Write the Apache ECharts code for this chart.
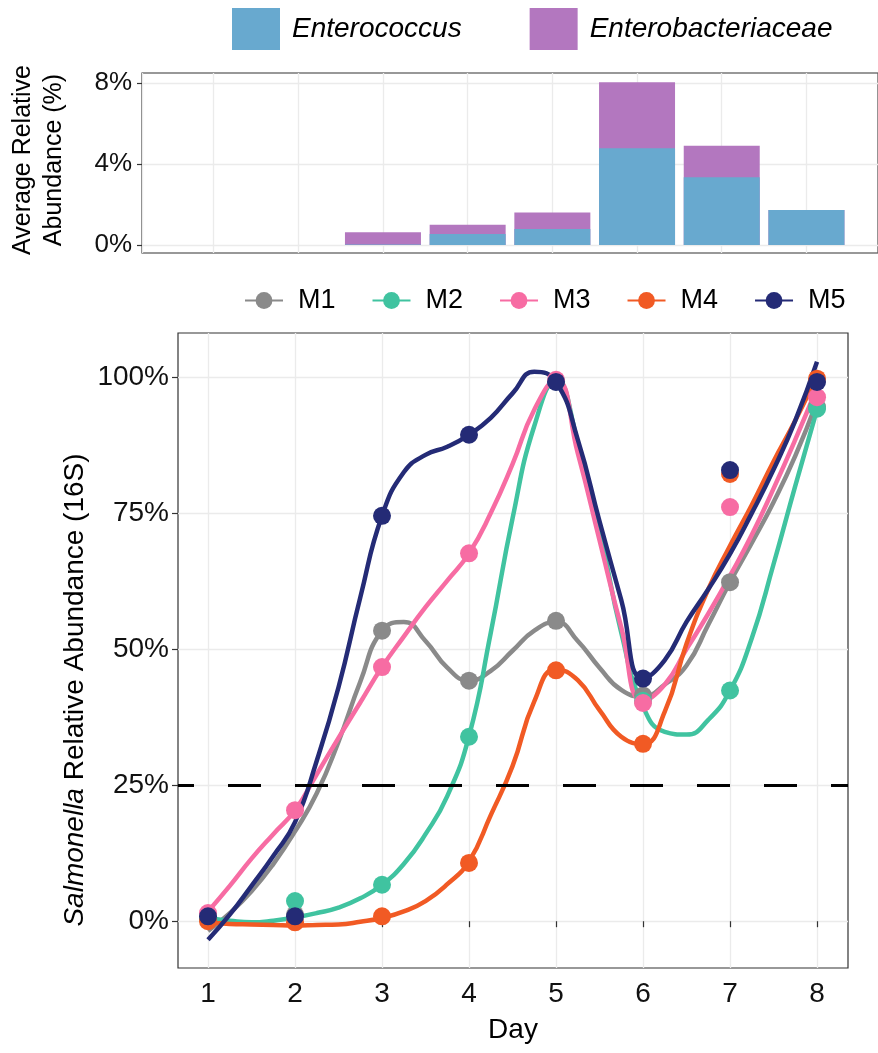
<!DOCTYPE html>
<html>
<head>
<meta charset="utf-8">
<script src="https://cdn.jsdelivr.net/npm/echarts@6/dist/echarts.min.js"></script>
<style>html,body{margin:0;padding:0;background:#fff}#c{width:878px;height:1053px}</style>
</head>
<body>
<div id="c"></div>
<script>
// ---------- data ----------
const days = [1, 2, 3, 4, 5, 6, 7, 8];
const barNames = ['Enterococcus', 'Enterobacteriaceae'];
const enterococcus = [0, 0, 0.03, 0.54, 0.79, 4.78, 3.34, 1.73];
const enterobacteriaceae = [0, 0, 0.60, 0.46, 0.81, 3.26, 1.56, 0];
const topTicks = [0, 4, 8];
const bottomTicks = [0, 25, 50, 75, 100];
const threshold = 25;

const seriesNames = ['M1', 'M2', 'M3', 'M4', 'M5'];
const m1Points = [0.5, 1.2, 53.4, 44.2, 55.2, 41.5, 62.3, 94.5];
const m2Points = [0.4, 3.7, 6.7, 33.9, 99.2, 40.5, 42.4, 94.2];
const m3Points = [1.5, 20.4, 46.7, 67.6, 99.5, 40.1, 76.1, 96.3];
const m4Points = [0, -0.2, 0.9, 10.7, 46.1, 32.6, 82.2, 99.7];
const m5Points = [0.9, 0.9, 74.5, 89.4, 99.1, 44.6, 82.9, 99.1];

// smoothed fit curves every quarter day
const curveDays = [1,1.25,1.5,1.75,2,2.25,2.5,2.75,3,3.25,3.5,3.75,4,4.25,4.5,4.75,5,5.25,5.5,5.75,6,6.25,6.5,6.75,7,7.25,7.5,7.75,8];
const m1Curve = [-1.8,1.5,5.5,10.5,16.5,23.5,33,44,53.4,55,51.5,46.6,44.2,46,49.7,53.4,55,51.5,46.6,42.5,41.3,43.5,47,54.5,62.3,69.5,77,85.5,95.5];
const m2Curve = [0.6,0.1,-0.2,0.1,0.7,1.5,2.5,4.2,6.7,10.5,16,23,34,53,74,91,99.4,88,72,53,39.5,34.8,34.3,37,42.4,52,65.6,80,94];
const m3Curve = [1.8,6.5,11.5,16,20.4,27,33.7,40.2,46.7,52.3,57.7,62.6,67.6,75,84,94,99.5,86,70,54,40.5,43.5,50,56.5,63.5,71,79.5,88.5,98];
const m4Curve = [-0.3,-0.5,-0.6,-0.7,-0.8,-0.7,-0.6,-0.1,0.6,1.8,3.7,6.8,11,19.5,28.5,40.4,46.3,44.3,38.8,33.9,32.6,38.5,51,61,69,76.5,84.5,92,100.3];
const m5Curve = [-3.4,1.2,6.5,12,18.2,29.5,43,59.5,74.5,82.5,85.7,87.2,89.4,92.5,97,101,99.1,88.5,73.5,59,44.6,48,55,61,67.5,75,83,92,102.8];

const allPoints = [m1Points, m2Points, m3Points, m4Points, m5Points];
const allCurves = [m1Curve, m2Curve, m3Curve, m4Curve, m5Curve];
const colors = ['#8A8A8A', '#40C3A0', '#F76CA3', '#F15A24', '#242B76'];
const barColors = ['#68A9CF', '#B377BF'];

// ---------- chart ----------
const FONT = '"Liberation Sans", Arial, Helvetica, sans-serif';
const chart = echarts.init(document.getElementById('c'), null, {renderer: 'canvas'});
const gridLine = {show: true, lineStyle: {color: '#EBEBEB', width: 1.3}};
const tickStyle = {lineStyle: {color: '#333', width: 1.2}};

const series = [];
// stacked bars: the upper segment is drawn from the running total, the lower one over it
series.push({
  name: barNames[1], type: 'bar', xAxisIndex: 0, yAxisIndex: 0, barWidth: 76, barGap: '-100%', z: 2,
  itemStyle: {color: barColors[1]},
  data: days.map((d, i) => [d, enterococcus[i] + enterobacteriaceae[i]])
});
series.push({
  name: barNames[0], type: 'bar', xAxisIndex: 0, yAxisIndex: 0, barWidth: 76, barGap: '-100%', z: 3,
  itemStyle: {color: barColors[0]},
  data: days.map((d, i) => [d, enterococcus[i]])
});
allCurves.forEach((c, k) => {
  series.push({
    name: seriesNames[k], type: 'line', xAxisIndex: 1, yAxisIndex: 1,
    smooth: 0.5, symbol: 'circle', showSymbol: false, z: 2,
    lineStyle: {width: 4.5, color: colors[k]}, itemStyle: {color: colors[k]},
    data: curveDays.map((d, i) => [d, c[i]])
  });
});
allPoints.forEach((p, k) => {
  series.push({
    name: seriesNames[k], type: 'scatter', xAxisIndex: 1, yAxisIndex: 1,
    symbolSize: 18, z: 3, itemStyle: {color: colors[k], opacity: 1},
    data: days.map((d, i) => [d, p[i]])
  });
});
series.push({
  name: 'threshold', type: 'line', xAxisIndex: 1, yAxisIndex: 1, data: [], z: 4,
  markLine: {
    silent: true, symbol: 'none', label: {show: false},
    lineStyle: {color: '#000', width: 3, type: [33, 34], dashOffset: 17},
    data: [{yAxis: threshold}]
  }
});

chart.setOption({
  animation: false,
  backgroundColor: '#fff',
  textStyle: {fontFamily: FONT},
  legend: [
    {
      data: barNames, left: 232, top: 8, padding: 0, icon: 'rect', itemWidth: 48, itemHeight: 42, itemGap: 68,
      textStyle: {fontSize: 28, fontStyle: 'italic', color: '#000', fontFamily: FONT, padding: [0, 0, 0, 7]},
      selectedMode: false
    },
    {
      data: seriesNames, left: 244, top: 287, padding: 0, itemWidth: 38, itemHeight: 21, itemGap: 36,
      textStyle: {fontSize: 27, color: '#000', fontFamily: FONT, padding: [0, 0, 0, 10]},
      selectedMode: false
    }
  ],
  grid: [
    {left: 142, top: 73, width: 739, height: 180, show: true, borderColor: '#333', borderWidth: 1.2, backgroundColor: 'transparent'},
    {left: 178, top: 333, width: 670, height: 635, show: true, borderColor: '#333', borderWidth: 1.2, backgroundColor: 'transparent'}
  ],
  xAxis: [
    {
      gridIndex: 0, type: 'value', min: 0.155, max: 8.845, minInterval: 1, maxInterval: 1,
      axisLine: {show: false}, axisTick: {show: false}, axisLabel: {show: false}, splitLine: gridLine
    },
    {
      gridIndex: 1, type: 'value', min: 0.655, max: 8.356, minInterval: 1, maxInterval: 1,
      axisLine: {show: false},
      axisTick: {show: true, length: 6, customValues: days, ...tickStyle},
      axisLabel: {show: true, customValues: days, margin: 12, fontSize: 28, color: '#111', fontFamily: FONT},
      splitLine: gridLine,
      name: 'Day', nameLocation: 'middle', nameGap: 48,
      nameTextStyle: {fontSize: 28, color: '#000', fontFamily: FONT}
    }
  ],
  yAxis: [
    {
      gridIndex: 0, type: 'value', min: -0.395, max: 8.494, minInterval: 1, maxInterval: 1,
      axisLine: {show: false},
      axisTick: {show: true, length: 5, customValues: topTicks, ...tickStyle},
      axisLabel: {show: true, customValues: topTicks, margin: 10, fontSize: 26, color: '#111', fontFamily: FONT,
        formatter: v => v + '%'},
      splitLine: gridLine
    },
    {
      gridIndex: 1, type: 'value', min: -8.6, max: 108.1, minInterval: 12.5, maxInterval: 12.5,
      axisLine: {show: false},
      axisTick: {show: true, length: 6, customValues: bottomTicks, ...tickStyle},
      axisLabel: {show: true, customValues: bottomTicks, margin: 9, fontSize: 28, color: '#111', fontFamily: FONT,
        formatter: v => v + '%'},
      splitLine: gridLine
    }
  ],
  graphic: [
    {
      type: 'text', x: 39, y: 160, rotation: Math.PI / 2, silent: true,
      style: {text: 'Average Relative\nAbundance (%)', fontSize: 25, fontFamily: FONT, fill: '#000',
        align: 'center', verticalAlign: 'middle', lineHeight: 31}
    },
    {
      type: 'text', x: 75, y: 690, rotation: Math.PI / 2, silent: true,
      style: {text: '{i|Salmonella} Relative Abundance (16S)', fontSize: 28, fontFamily: FONT, fill: '#000',
        align: 'center', verticalAlign: 'middle',
        rich: {i: {fontStyle: 'italic', fontSize: 28, fontFamily: FONT, fill: '#000'}}}
    }
  ],
  series: series
});
</script>
</body>
</html>
